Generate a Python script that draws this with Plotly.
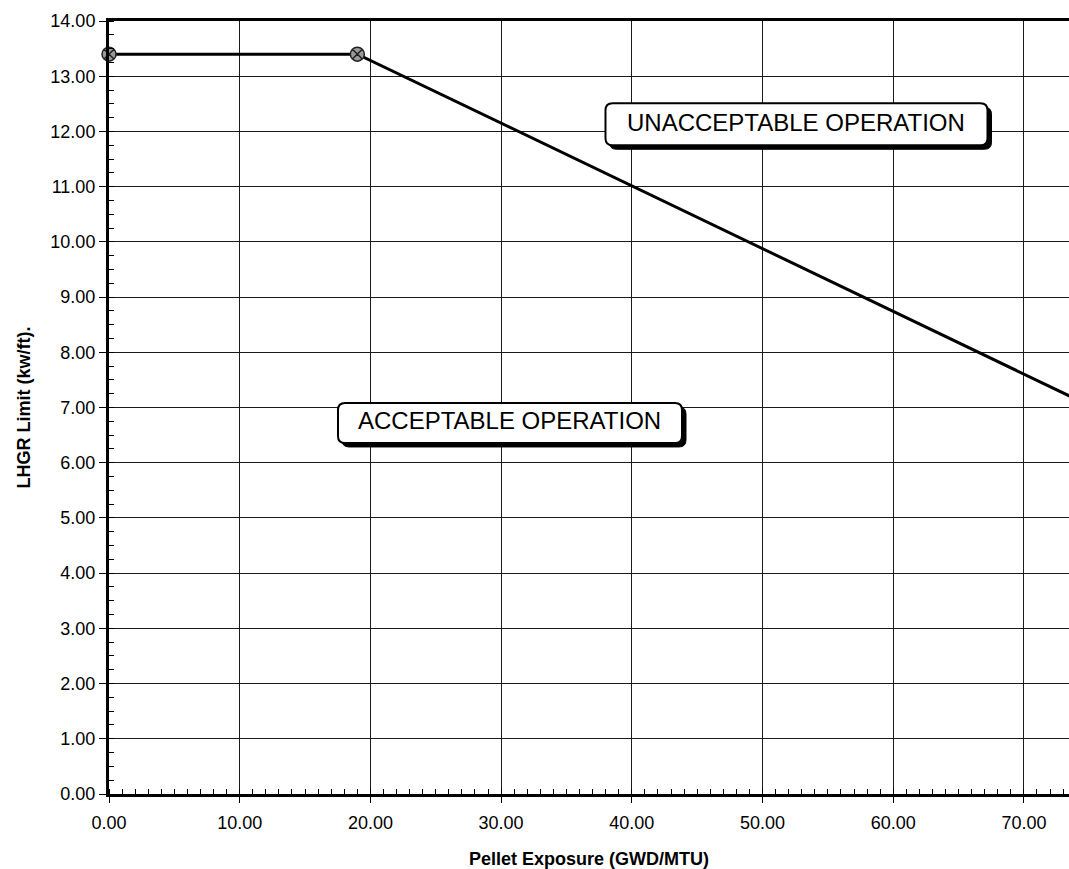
import plotly.graph_objects as go

# Data
exposure = [0.0, 19.0, 74.0]          # GWD/MTU
lhgr_limit = [13.4, 13.4, 7.15]       # kw/ft
x_ticks = [0, 10, 20, 30, 40, 50, 60, 70]
y_ticks = list(range(0, 15))

labels = ["UNACCEPTABLE OPERATION", "ACCEPTABLE OPERATION"]
label_x = [52.6, 30.68]
label_y = [12.13, 6.72]
box_half_w = [191, 172]
box_half_h = [21, 20]

font_family = "Liberation Sans, Arial, sans-serif"


def rounded_rect(w, h, dx=0, dy=0, r=7):
    l, rt, b, t = -w + dx, w + dx, -h + dy, h + dy
    return (f"M {l + r},{b} L {rt - r},{b} Q {rt},{b} {rt},{b + r} "
            f"L {rt},{t - r} Q {rt},{t} {rt - r},{t} L {l + r},{t} "
            f"Q {l},{t} {l},{t - r} L {l},{b + r} Q {l},{b} {l + r},{b} Z")


fig = go.Figure()
fig.add_trace(go.Scatter(
    x=exposure, y=lhgr_limit, mode="lines",
    line=dict(color="black", width=3), showlegend=False,
))
fig.add_trace(go.Scatter(
    x=exposure[:2], y=lhgr_limit[:2], mode="markers",
    marker=dict(symbol="circle-x", size=14, color="#9a9a9a",
                line=dict(color="#222222", width=1.5)),
    showlegend=False, cliponaxis=False,
))

shapes = []
annotations = []
for txt, ax_, ay_, w, h in zip(labels, label_x, label_y, box_half_w, box_half_h):
    common = dict(type="path", xref="x", yref="y", xsizemode="pixel",
                  ysizemode="pixel", xanchor=ax_, yanchor=ay_, layer="above")
    shapes.append(dict(path=rounded_rect(w, h, 4, -4), fillcolor="black",
                       line=dict(color="black", width=1), **common))
    shapes.append(dict(path=rounded_rect(w, h), fillcolor="white",
                       line=dict(color="black", width=2), **common))
    annotations.append(dict(
        x=ax_, y=ay_, xref="x", yref="y", text=txt, showarrow=False,
        font=dict(family=font_family, size=24, color="black"),
        yshift=2,
    ))

fig.update_layout(
    width=1069, height=869,
    margin=dict(l=109, r=0, t=21, b=75),
    paper_bgcolor="white", plot_bgcolor="white",
    font=dict(family=font_family, color="black"),
    shapes=shapes,
    annotations=annotations,
    xaxis=dict(
        range=[0, 73.45], tickvals=x_ticks, tickformat=".2f",
        tickfont=dict(size=18), ticks="outside", ticklen=6, tickwidth=1,
        tickcolor="black", ticklabelstandoff=4,
        showgrid=True, gridcolor="#1a1a1a", gridwidth=1,
        showline=True, linecolor="black", linewidth=3, mirror=True,
        zeroline=False,
        minor=dict(dtick=1, ticks="inside", ticklen=5, tickcolor="black",
                   showgrid=False),
        title=dict(text="<b>Pellet Exposure (GWD/MTU)</b>",
                   font=dict(size=18), standoff=24),
    ),
    yaxis=dict(
        range=[0, 14], tickvals=y_ticks, tickformat=".2f",
        tickfont=dict(size=18), ticks="outside", ticklen=7, tickwidth=1,
        tickcolor="black",
        showgrid=True, gridcolor="#1a1a1a", gridwidth=1,
        showline=True, linecolor="black", linewidth=3, mirror=False,
        zeroline=False,
        minor=dict(dtick=0.25, ticks="inside", ticklen=5, tickcolor="black",
                   showgrid=False),
        title=dict(text="<b>LHGR Limit (kw/ft).</b>",
                   font=dict(size=18), standoff=16),
    ),
)

fig.write_html(
    "out.html",
    config={"displayModeBar": False},
    post_script="document.body.style.margin='0';document.body.style.overflow='hidden';",
)
